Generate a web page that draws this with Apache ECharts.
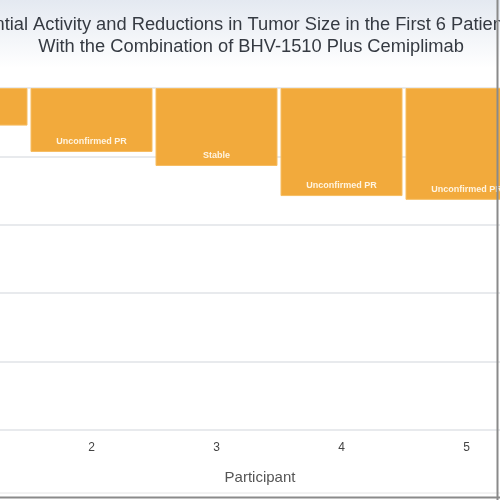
<!DOCTYPE html>
<html>
<head>
<meta charset="utf-8">
<script src="https://cdn.jsdelivr.net/npm/echarts@6/dist/echarts.min.js"></script>
<style>
html, body { margin: 0; padding: 0; background: #fff; }
#chart { width: 500px; height: 500px; }
</style>
</head>
<body>
<div id="chart"></div>
<script>
// data (tumor size change, %)
var participants = ['1', '2', '3', '4', '5', '6'];
var sizeChange = [-11, -18.7, -22.8, -31.6, -32.7, -45];
var barLabels = ['SD', 'Unconfirmed PR', 'Stable', 'Unconfirmed PR', 'Unconfirmed PR', 'PR'];
var yTicks = { min: -100, max: 0, interval: 20 };

var chart = echarts.init(document.getElementById('chart'));

var seriesData = [];
for (var i = 0; i < sizeChange.length; i++) {
	seriesData.push({ value: sizeChange[i], name: barLabels[i] });
}

var titleStyle = {
	fontFamily: 'Liberation Sans',
	fontSize: 18.3,
	fontWeight: 'normal',
	color: '#353a42'
};

var option = {
	backgroundColor: '#fff',
	animation: false,
	graphic: [
		{ //title band
			type: 'rect', left: 0, top: 0, z: -1,
			shape: { width: 500, height: 68 },
			style: {
				fill: new echarts.graphic.LinearGradient(0, 0, 0, 1, [
					{ offset: 0, color: '#e4e9f1' },
					{ offset: 1, color: '#ffffff' }
				])
			}
		},
		{ type: 'line', shape: { x1: 497.5, y1: 0, x2: 497.5, y2: 500 }, style: { stroke: '#8a8a8a', lineWidth: 2 }, z: 10 },
		{ type: 'line', shape: { x1: 0, y1: 493, x2: 500, y2: 493 }, style: { stroke: '#e6e6e6', lineWidth: 1 } },
		{ type: 'line', shape: { x1: 0, y1: 497.5, x2: 500, y2: 497.5 }, style: { stroke: '#8a8a8a', lineWidth: 2 }, z: 10 }
	],
	title: [{
		text: 'Potential Activity and Reductions in Tumor Size in the First 6 Patients',
		left: 232,
		top: 11,
		textAlign: 'center',
		textStyle: titleStyle
	}, {
		text: 'With the Combination of BHV-1510 Plus Cemiplimab',
		left: 246,
		top: 33,
		textAlign: 'center',
		textStyle: titleStyle
	}],
	grid: {
		left: -96,
		width: 750,
		top: 88,
		height: 342,
		outerBoundsMode: 'none',
		containLabel: false
	},
	xAxis: {
		type: 'category',
		data: participants,
		position: 'bottom',
		name: 'Participant',
		nameLocation: 'middle',
		nameGap: 40,
		nameTextStyle: { fontFamily: 'Liberation Sans', fontSize: 15, color: '#555', padding: [0, 38, 0, 0] },
		axisLine: { show: false },
		axisTick: { show: false },
		axisLabel: { fontFamily: 'Liberation Sans', fontSize: 12, color: '#444', margin: 12 }
	},
	yAxis: {
		type: 'value',
		min: yTicks.min,
		max: yTicks.max,
		interval: yTicks.interval,
		axisLine: { show: false },
		axisTick: { show: false },
		axisLabel: { show: false },
		splitLine: { lineStyle: { color: '#e8eaed', width: 2 } }
	},
	series: [{
		type: 'bar',
		data: seriesData,
		barCategoryGap: '2.4%',
		itemStyle: { color: '#f2aa3c', borderColor: '#f6bd62', borderWidth: 1 },
		label: {
			show: true,
			position: 'insideBottom',
			distance: 6,
			formatter: '{b}',
			fontFamily: 'Liberation Sans',
			fontSize: 9,
			fontWeight: 'bold',
			color: '#fff4e0'
		}
	}]
};

chart.setOption(option);
</script>
</body>
</html>
